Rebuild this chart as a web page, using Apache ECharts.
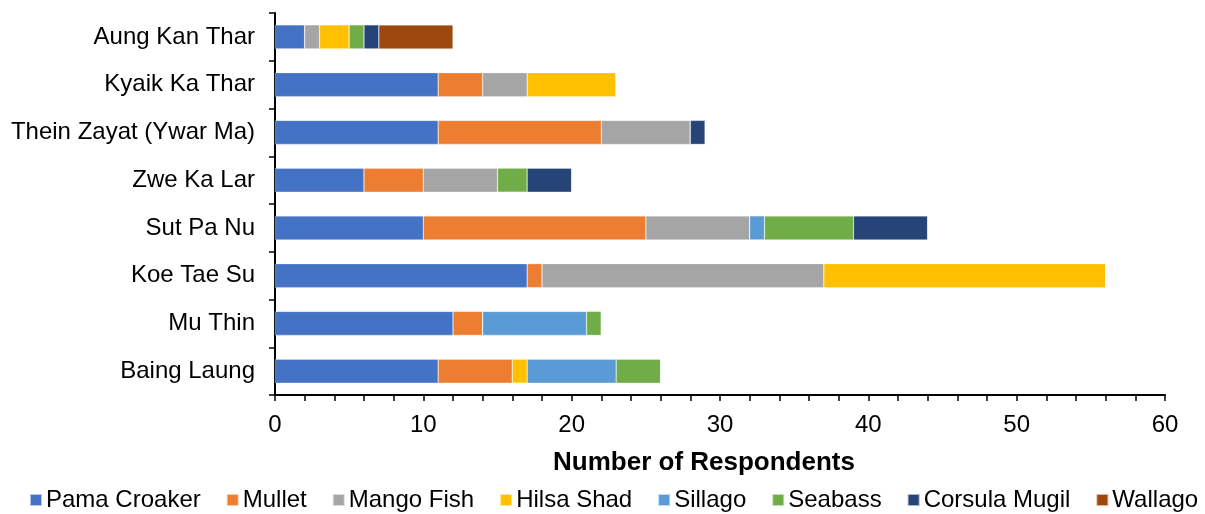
<!DOCTYPE html>
<html>
<head>
<meta charset="utf-8">
<script src="https://cdn.jsdelivr.net/npm/echarts@6/dist/echarts.min.js"></script>
<style>
  html, body { margin: 0; padding: 0; background: #fff; }
  #chart { width: 1205px; height: 514px; }
</style>
</head>
<body>
<div id="chart"></div>
<script>
// Villages, listed bottom to top on the category axis
const villages = ['Baing Laung', 'Mu Thin', 'Koe Tae Su', 'Sut Pa Nu', 'Zwe Ka Lar',
  'Thein Zayat (Ywar Ma)', 'Kyaik Ka Thar', 'Aung Kan Thar'];

// Respondents per fish species, same order as villages
const pamaCroaker = [11, 12, 17, 10, 6, 11, 11, 2];
const mullet      = [5, 2, 1, 15, 4, 11, 3, 0];
const mangoFish   = [0, 0, 19, 7, 5, 6, 3, 1];
const hilsaShad   = [1, 0, 19, 0, 0, 0, 6, 2];
const sillago     = [6, 7, 0, 1, 0, 0, 0, 0];
const seabass     = [3, 1, 0, 6, 2, 0, 0, 1];
const corsulaMugil= [0, 0, 0, 5, 3, 1, 0, 1];
const wallago     = [0, 0, 0, 0, 0, 0, 0, 5];

const speciesNames = ['Pama Croaker', 'Mullet', 'Mango Fish', 'Hilsa Shad', 'Sillago',
  'Seabass', 'Corsula Mugil', 'Wallago'];
const speciesData = [pamaCroaker, mullet, mangoFish, hilsaShad, sillago, seabass, corsulaMugil, wallago];
const speciesColors = ['#4472C4', '#ED7D31', '#A5A5A5', '#FFC000', '#5B9BD5', '#70AD47', '#264478', '#9E480E'];

const FONT = '"Liberation Sans", Arial, sans-serif';

const chart = echarts.init(document.getElementById('chart'), null, { renderer: 'canvas' });

chart.setOption({
  animation: false,
  color: speciesColors,
  grid: { left: 275, right: 40, top: 13, bottom: 119, containLabel: false },
  legend: {
    bottom: 2,
    left: 29,
    width: 1176,
    padding: 0,
    itemWidth: 12,
    itemHeight: 12,
    itemGap: 25,
    icon: 'rect',
    textStyle: { fontFamily: FONT, fontSize: 24, color: '#000', padding: [0, 0, 0, -1] },
    data: speciesNames
  },
  xAxis: {
    type: 'value',
    min: 0,
    max: 60,
    interval: 10,
    name: 'Number of Respondents',
    nameLocation: 'middle',
    nameGap: 55,
    nameTextStyle: { fontFamily: FONT, fontSize: 26, fontWeight: 'bold', color: '#000', padding: [0, 32, 0, 0] },
    axisLine: { show: true, lineStyle: { color: '#000', width: 2 } },
    axisTick: { show: true, length: 6, lineStyle: { color: '#000', width: 1.5 } },
    minorTick: { show: true, splitNumber: 5, length: 6, lineStyle: { color: '#000', width: 1.5 } },
    splitLine: { show: false },
    axisLabel: { fontFamily: FONT, fontSize: 24, color: '#000', margin: 18 }
  },
  yAxis: {
    type: 'category',
    data: villages,
    axisLine: { show: true, lineStyle: { color: '#000', width: 2 } },
    axisTick: { show: true, length: 6, lineStyle: { color: '#000', width: 1.5 } },
    axisLabel: { fontFamily: FONT, fontSize: 24, color: '#000', margin: 20 }
  },
  series: speciesNames.map((name, i) => ({
    name: name,
    type: 'bar',
    stack: 'total',
    barWidth: 24,
    data: speciesData[i],
    itemStyle: { color: speciesColors[i], borderColor: 'rgba(255,255,255,0.6)', borderWidth: 0.5 }
  }))
});
</script>
</body>
</html>
